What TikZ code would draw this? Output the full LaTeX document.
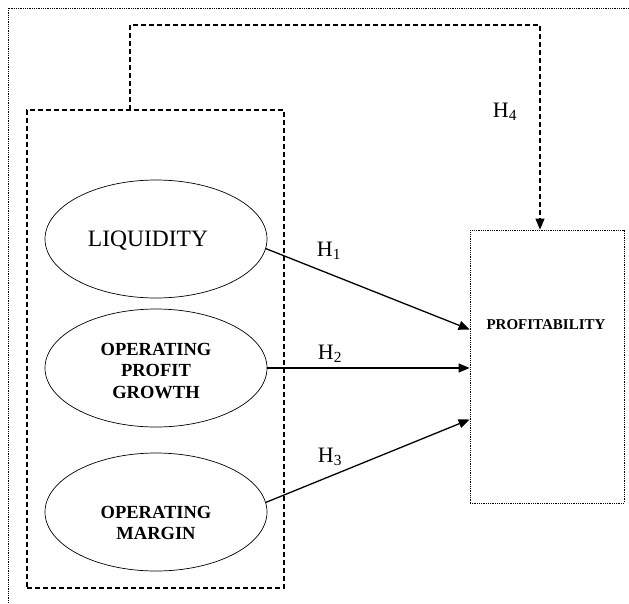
\documentclass[tikz,border=0pt]{standalone}
\usepackage{fontspec}
\setmainfont{Liberation Serif}
\usetikzlibrary{shapes.geometric,arrows.meta}

\tikzset{construct/.style = {ellipse, draw, line width=0.7pt,
                             minimum width=222pt, minimum height=118pt,
                             inner sep=0pt, align=center,
                             font=\fontsize{18.5}{21.5}\selectfont\bfseries},
         constext/.style  = {align=center, font=\fontsize{18.5}{21.5}\selectfont\bfseries},
         groupbox/.style  = {draw, line width=1.1pt, dash pattern=on 5pt off 3pt},
         dotbox/.style    = {draw, line width=0.8pt, dash pattern=on 1pt off 0.8pt},
         hyp/.style       = {line width=1.3pt, -{Triangle[length=11pt,width=9pt]}},
         hyplabel/.style  = {font=\fontsize{22}{24}\selectfont}
        }

\begin{document}
\begin{tikzpicture}[x=1pt, y=-1pt]
  \useasboundingbox (0,0) rectangle (629,603);
  % outer frame
  \draw[dotbox] (8,603) |- (629,8);

  \node[groupbox, minimum width=257pt, minimum height=478pt] (group) at (155.5,349) {};
  \node[dotbox, minimum width=154pt, minimum height=273pt] (profit) at (547,366.5) {};
  \node[font=\fontsize{15}{17}\selectfont\bfseries] (profittext) at (546,325) {PROFITABILITY};

  \node[construct] (liq) at (156,239) {};
  \node[font=\fontsize{23.5}{26}\selectfont] (liqtext) at (148,241) {LIQUIDITY};
  \node[construct] (opg) at (156,368) {};
  \node[constext] (opgtext) at (156,371) {OPERATING\\PROFIT\\GROWTH};
  \node[construct] (opm) at (156,512) {};
  \node[constext] (opmtext) at (156,523) {OPERATING\\MARGIN};

  \draw[hyp] (liq.-5) -- ([yshift=37pt]profit.west);
  \draw[hyp] (opg.east) -- (opg.east -| profit.west);
  \draw[hyp] (opm.5) -- ([yshift=-53pt]profit.west);

  \coordinate (h4start) at (130,110);
  \coordinate (h4turn) at (540,25);
  \draw[groupbox, hyp, line width=1.1pt] (h4start) |- (h4turn) -- (h4turn |- profit.north);

  \node[hyplabel] (h1) at (329,251) {H\textsubscript{1}};
  \node[hyplabel] (h2) at (330,354) {H\textsubscript{2}};
  \node[hyplabel] (h3) at (330,457) {H\textsubscript{3}};
  \node[hyplabel] (h4) at (505,112) {H\textsubscript{4}};
\end{tikzpicture}
\end{document}
